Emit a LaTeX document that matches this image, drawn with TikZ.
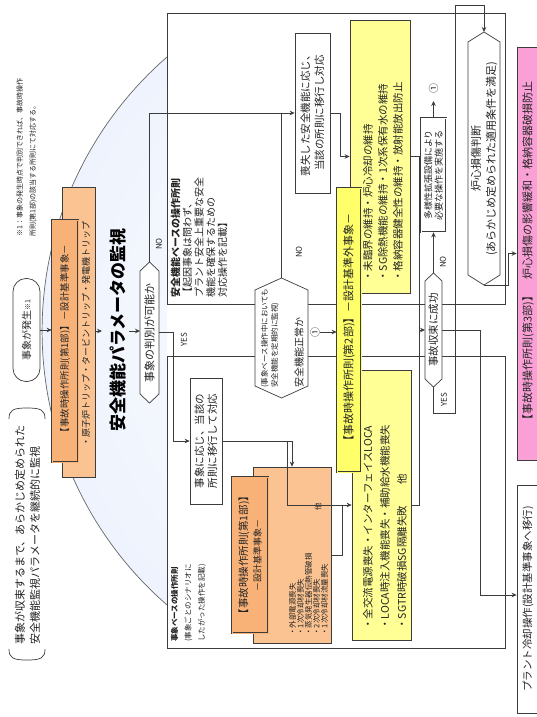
\documentclass[tikz,border=0pt]{standalone}
\usepackage{fontspec}
\setmainfont{Noto Sans CJK JP}
\usetikzlibrary{arrows.meta}
\definecolor{lnc}{RGB}{60,60,60}
\definecolor{txtc}{RGB}{35,35,35}
\definecolor{orf}{RGB}{250,195,145}
\definecolor{orl}{RGB}{248,178,120}
\definecolor{yelf}{RGB}{255,255,150}
\definecolor{yell}{RGB}{255,255,105}
\definecolor{pinkf}{RGB}{250,160,215}
\definecolor{sbA}{RGB}{234,240,252}
\definecolor{sbB}{RGB}{170,190,238}
\pgfdeclareradialshading{semis}{\pgfpointorigin}{color(0bp)=(white); color(31bp)=(sbA); color(50bp)=(sbB)}
\newcommand\fsz[2]{\fontsize{#1}{#2}\selectfont}
\newcommand\hexv[6]{%
 \coordinate (#1) at (#2,#3);
 \draw[hexline] (#2,#3) ++(0,-#4/2) coordinate (#1t) -- ++(#5/2,#6) -- ++(0,#4-2*#6) -- ++(-#5/2,#6) coordinate (#1b) -- ++(-#5/2,-#6) -- ++(0,-#4+2*#6) -- cycle;
 \path (#2,#3) ++(-#5/2,0) coordinate (#1l);
 \path (#2,#3) ++(#5/2,0) coordinate (#1r);
}
\begin{document}
\begin{tikzpicture}[x=1pt,y=-1pt,line width=0.7pt,>={Stealth[length=5pt,width=4.5pt]},
 conn/.style={draw=lnc,line width=0.9pt},
 rbox/.style={rotate=90,draw=lnc,line width=0.7pt,fill=white,inner sep=0pt,align=center,text=txtc},
 rtxt/.style={rotate=90,inner sep=0pt,align=left,text=txtc},
 dbl/.style={draw=lnc,double=#1,double distance=1pt,line width=0.6pt},
 hexline/.style={draw=lnc,fill=white,line width=0.7pt},
 lbl/.style={rotate=90,inner sep=0pt,text=txtc,font=\fsz{8}{9}}]
\useasboundingbox (0,0) rectangle (537,717);
\fill[white] (0,0) rectangle (537,717);
% blue monitoring segment
\begin{scope}
\clip (167,57) arc[start angle=229.02,end angle=130.98,radius=362.9] -- cycle;
\shade[shading=semis] (404.9,330.9) circle[radius=362.9];
\end{scope}
\draw[draw=black!60,line width=0.7pt] (167,57) arc[start angle=229.02,end angle=130.98,radius=362.9];
% frames
\draw[lnc] (167,13) rectangle (505,304);
\draw[lnc] (167,356) rectangle (505,648);
% left notes
\node[rtxt,anchor=west,font=\fsz{7}{13}] (note) at (26.5,237) {※1：事象の発生時点で判別できれば、事故時操作\\所則(第1部)の該当する所則にて対応する。};
\node[rtxt,anchor=west,font=\fsz{11}{15}] (mon) at (27.5,645) {事象が収束するまで、あらかじめ定められた\\安全機能監視パラメータを継続的に監視};
\draw[lnc] (9,419) .. controls (9,410) and (13,408) .. (27,408) .. controls (41,408) and (45,410) .. (45,419);
\draw[lnc] (9,649) .. controls (9,658) and (13,660) .. (27,660) .. controls (41,660) and (45,658) .. (45,649);
% start
\node[rbox,rounded corners=13pt,minimum width=103pt,minimum height=27pt,font=\fsz{10}{12}] (st) at (26.5,330) {事象が発生{\fsz{7}{7}※1}};
\node[rbox,fill=orf,minimum width=290pt,minimum height=33pt] (ob1) at (78.5,332) {};
\node[rbox,fill=orl,dbl=orl,minimum width=242pt,minimum height=26pt,font=\fsz{9.5}{11}] (lab1) at (65,341) {【事故時操作所則(第1部)】－設計基準事象－};
\node[rtxt,anchor=west,font=\fsz{9}{11}] (ob1t) at (86,447) {・原子炉トリップ・タービントリップ・発電機トリップ};
\node[rotate=90,inner sep=0pt,font=\fsz{17}{20}\bfseries,text=black] (ttl) at (118,330) {安全機能パラメータの監視};
\coordinate (a1) at (102,331);
\coordinate (a2) at (129,331);
% hexagon 1
\hexv{h1}{149.5}{332.5}{141}{19}{9}
\node[rotate=90,inner sep=0pt,font=\fsz{11}{12},text=txtc] (h1x) at (h1) {事象の判別が可能か};
% upper frame texts
\node[rtxt,anchor=west,font=\fsz{10}{11.8}] (sfb) at (199,298) {{\bfseries 安全機能ベースの操作所則}\\【起因事象は問わず、\\プラント安全上重要な安全\\機能を確保するための\\対応操作を記載】};
\node[rbox,minimum width=160pt,minimum height=35pt,font=\fsz{10.5}{14}] (b2) at (312.5,113) {喪失した安全機能に応じ、\\当該の所則に移行し対応};
% hexagon 2
\hexv{h2}{281.5}{338}{120}{53}{12}
\node[rtxt,anchor=west,font=\fsz{7.5}{10}] (h2s) at (270,388) {(事象ベース操作中においても\\安全機能を定期的に監視)};
\node[rtxt,anchor=west,font=\fsz{10}{12}] (h2x) at (299,388) {安全機能正常か};
% yellow boxes
\node[rbox,fill=yelf,minimum width=273pt,minimum height=60pt] (y1) at (380,156.5) {};
\node[rtxt,anchor=west,font=\fsz{10.5}{15}] (y1t) at (383,282) {・未臨界の維持・炉心冷却の維持\\・SG除熱機能の維持・1次系保有水の維持\\・格納容器健全性の維持・放射能放出防止};
\node[rbox,fill=yelf,minimum width=270pt,minimum height=59pt] (y2) at (381.5,505) {};
\node[rtxt,anchor=west,font=\fsz{10.5}{17}] (y2t) at (385,630) {・全交流電源喪失・インターフェイスLOCA\\・LOCA時注入機能喪失・補助給水機能喪失\\・SGTR時破損SG隔離失敗　　他};
\node[rbox,fill=yell,dbl=yell,minimum width=284pt,minimum height=24pt,font=\fsz{11}{12}] (lab2) at (349,330) {【事故時操作所則(第2部)】－設計基準外事象－};
\node[rotate=90,inner sep=0pt,font=\fsz{10}{10},text=txtc] (c1b) at (315,332) {①};
% right side
\node[rbox,dbl=white,minimum width=114pt,minimum height=25pt,font=\fsz{9}{10.5}] (b3) at (433.5,175) {多様性拡張設備により\\必要な操作を実施する};
\node[rotate=90,inner sep=0pt,font=\fsz{10}{10},text=txtc] (c1a) at (433.5,88) {①};
\coordinate (c1p) at (433.5,101);
\hexv{h3}{433.5}{330}{114}{17}{8}
\node[rotate=90,inner sep=0pt,font=\fsz{10.5}{12},text=txtc] (h3x) at (h3) {事故収束に成功};
\hexv{h4}{484}{158.5}{253}{32}{10}
\node[rotate=90,inner sep=0pt,align=center,font=\fsz{11}{15},text=txtc] (h4x) at (h4) {炉心損傷判断\\(あらかじめ定められた適用条件を満足)};
\node[rbox,fill=pinkf,minimum width=413pt,minimum height=22pt,font=\fsz{11}{12}] (p) at (528,253.5) {【事故時操作所則(第3部)】　炉心損傷の影響緩和・格納容器破損防止};
\node[rbox,minimum width=228pt,minimum height=22pt,font=\fsz{10.5}{12}] (pc) at (528,599) {プラント冷却操作(設計基準事象へ移行)};
% lower frame
\node[rtxt,anchor=west,font=\fsz{7.5}{13.5}] (evb) at (188.5,642) {{\bfseries 事象ベースの操作所則}\\(事象ごとのシナリオに\\したがった操作を記載)};
\node[rbox,minimum width=126pt,minimum height=32pt,font=\fsz{10.5}{13}] (b4) at (206,441) {事象に応じ、当該の\\所則に移行して対応};
\node[rbox,fill=orf,minimum width=176pt,minimum height=78pt] (ob2) at (292,555) {};
\node[rbox,fill=orl,dbl=orl,minimum width=156pt,minimum height=36pt,font=\fsz{10.5}{13.5}] (lab3) at (250,555) {【事故時操作所則(第1部)】\\{\fsz{9}{10}－設計基準事象－}};
\node[rtxt,anchor=west,font=\fsz{7.5}{8}] (ob2t) at (308.5,636) {・外部電源喪失\\・1次冷却材喪失\\・蒸気発生器伝熱管破損\\・2次冷却材喪失\\・1次冷却材流量喪失};
\node[rotate=90,inner sep=0pt,font=\fsz{7.5}{8},text=txtc] (ob2e) at (318,507) {他};
% labels
\node[lbl] (no1) at (159,244) {NO};
\node[lbl] (yes1) at (184,340) {YES};
\node[lbl] (no2) at (299,252) {NO};
\node[lbl] (no3) at (443,262) {NO};
\node[lbl] (yes3) at (444,400) {YES};
% coordinates
\coordinate (yv) at (173,0);
\coordinate (k1) at (340,0);
\coordinate (k2) at (419,0);
\coordinate (k3) at (455,413);
\coordinate (k4) at (455,5);
\coordinate (k5) at (484,5);
\coordinate (k6) at (480,595);
\coordinate (k7) at (508,285);
\coordinate (k8) at (287,505);
\coordinate (k9) at (342,505);
% connectors
\draw[conn,->] (st.south) -- (st.south -| lab1.north);
\draw[conn,->] (ob1.south |- a1) -- (a1);
\draw[conn,->] (a2) -- (a2 -| h1l);
\draw[conn,->] (h1t) -- (h1t |- b2.north) -- (b2.north);
\draw[conn] (h2t) -- (h2t |- b2.north);
\draw[conn,->] (h1r) -- (h1r -| yv) -- (yv |- b4.north) -- (b4.north);
\draw[conn,->] (b2.south) -- (b2.south -| k1) -- (k1 |- y1.north) -- (y1.north);
\draw[conn] (y1.south) -- (y1.south -| k2) -- (k2 |- y2.south) -- (y2.south);
\draw[conn,->] (k2 |- h3l) -- (h3l);
\draw[conn,->] (h3t) -- (b3.west);
\draw[conn,->] (b3.east) -- (c1p);
\draw[conn,->] (c1b) -- (c1b -| lab2.north);
\draw[conn,->] (h3b) -- (h3b |- k3) -- (k3) -- (k4) -- (k5) -- (h4t);
\draw[conn,->] (h3r) -- (h3r -| k6) -- (k6) -- (k6 -| pc.north);
\draw[conn,->] (h4b) -- (k7) -- (k7 |- p.north) -- (p.north);
\draw[conn,->] (b4.south) -- (b4.south -| ob2.east) -- (ob2.east);
\draw[conn,->] (b4.south -| k8) -- (k8) -- (k8 -| y2.north);
\draw[conn] (ob2.south) -- (ob2.south -| k9) -- (k9);
\end{tikzpicture}
\end{document}
